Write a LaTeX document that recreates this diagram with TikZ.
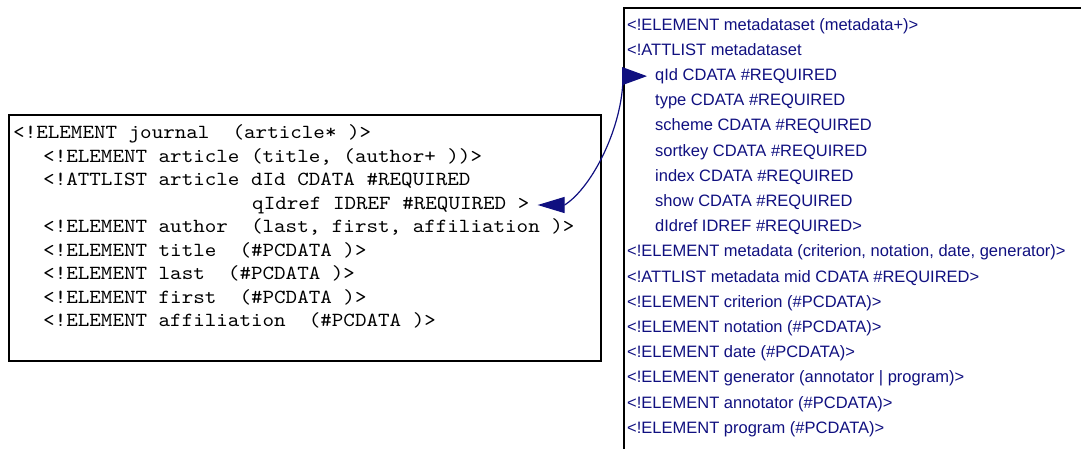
\documentclass[tikz,border=0pt]{standalone}
\usepackage{fontspec}
\newfontfamily\dtdmono[FakeStretch=1.1]{lmmono10-regular.otf}
\newfontfamily\dtdsans{Liberation Sans}
\usetikzlibrary{arrows.meta}
\definecolor{dtdblue}{RGB}{16,16,128}

\begin{document}
\begin{tikzpicture}[x=1pt, y=-1pt,
		frame/.style = {draw, line width=1.5pt, inner sep=0pt, anchor=north west},
		monoline/.style = {anchor=base west, inner sep=0pt, font=\dtdmono\fontsize{20}{23.5}\selectfont},
		sansline/.style = {anchor=base west, inner sep=0pt, text=dtdblue, font=\dtdsans\fontsize{16.5}{25}\selectfont},
		link/.style = {draw=dtdblue, line width=1.2pt, {Triangle[length=27pt,width=16pt,fill=dtdblue]}-{Triangle[length=25pt,width=18pt,fill=dtdblue]}}]
		\useasboundingbox (0,0) rectangle (1081,448);

		% journal DTD
		\node[frame, minimum width=592pt, minimum height=246pt] (journal) at (8,114) {};
		\node[monoline] (j1) at (13,138.5) {<!ELEMENT journal\ \ (article* )>};
		\node[monoline] (j2) at (43,162) {<!ELEMENT article (title, (author+ ))>};
		\node[monoline] (j3) at (43,185.5) {<!ATTLIST article dId CDATA \#REQUIRED};
		\node[monoline] (qidref) at (252,209) {qIdref IDREF \#REQUIRED >};
		\node[monoline] (j5) at (43,232.5) {<!ELEMENT author\ \ (last, first, affiliation )>};
		\node[monoline] (j6) at (43,256) {<!ELEMENT title\ \ (\#PCDATA )>};
		\node[monoline] (j7) at (43,279.5) {<!ELEMENT last\ \ (\#PCDATA )>};
		\node[monoline] (j8) at (43,303) {<!ELEMENT first\ \ (\#PCDATA )>};
		\node[monoline] (j9) at (43,326.5) {<!ELEMENT affiliation\ \ (\#PCDATA )>};

		% metadataset DTD
		\node[frame, minimum width=480pt, minimum height=460pt] (metaset) at (623,7) {};
		\node[sansline] (m1) at (627,30) {<!ELEMENT metadataset (metadata+)>};
		\node[sansline] (m2) at (627,55.2) {<!ATTLIST metadataset};
		\node[sansline] (qid) at (655,80.4) {qId CDATA \#REQUIRED};
		\node[sansline] (m4) at (655,105.6) {type CDATA \#REQUIRED};
		\node[sansline] (m5) at (655,130.8) {scheme CDATA \#REQUIRED};
		\node[sansline] (m6) at (655,156) {sortkey CDATA \#REQUIRED};
		\node[sansline] (m7) at (655,181.2) {index CDATA \#REQUIRED};
		\node[sansline] (m8) at (655,206.4) {show CDATA \#REQUIRED};
		\node[sansline] (m9) at (655,231.6) {dIdref IDREF \#REQUIRED>};
		\node[sansline] (m10) at (627,256.8) {<!ELEMENT metadata (criterion, notation, date, generator)>};
		\node[sansline] (m11) at (627,282) {<!ATTLIST metadata mid CDATA \#REQUIRED>};
		\node[sansline] (m12) at (627,307.2) {<!ELEMENT criterion (\#PCDATA)>};
		\node[sansline] (m13) at (627,332.4) {<!ELEMENT notation (\#PCDATA)>};
		\node[sansline] (m14) at (627,357.6) {<!ELEMENT date (\#PCDATA)>};
		\node[sansline] (m15) at (627,382.8) {<!ELEMENT generator (annotator | program)>};
		\node[sansline] (m16) at (627,408) {<!ELEMENT annotator (\#PCDATA)>};
		\node[sansline] (m17) at (627,433.2) {<!ELEMENT program (\#PCDATA)>};

		\draw[link] ([xshift=8pt]qidref.east) -- ++(27,0)
			.. controls +(28,-18) and +(0,50) .. ([xshift=-32pt]qid.west) -- ([xshift=-8pt]qid.west);
	\end{tikzpicture}
\end{document}
